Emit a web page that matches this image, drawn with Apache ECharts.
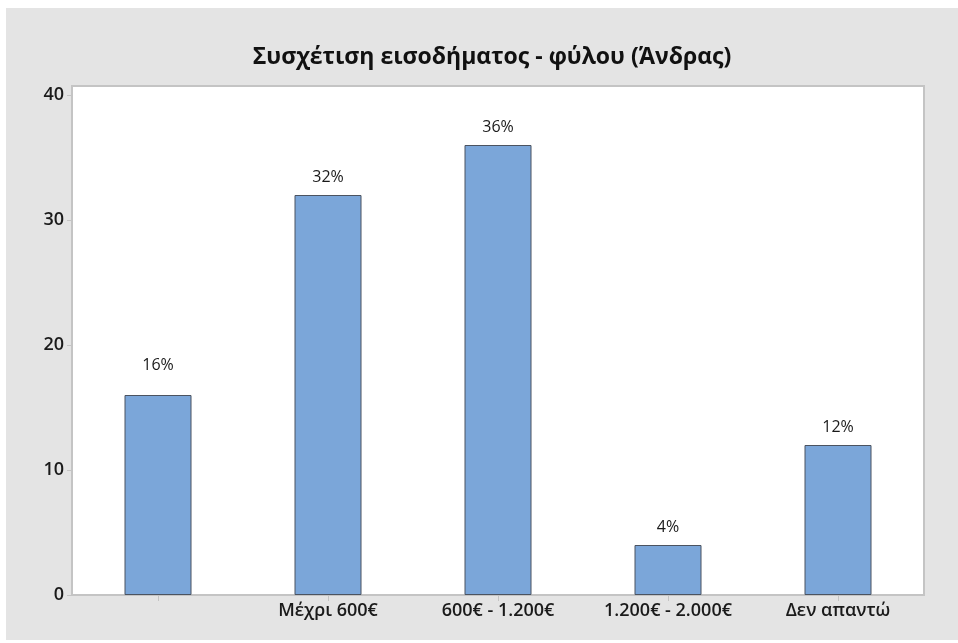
<!DOCTYPE html>
<html>
<head>
<meta charset="utf-8">
<script src="https://cdn.jsdelivr.net/npm/echarts@6/dist/echarts.min.js"></script>
<style>
  html, body { margin: 0; padding: 0; background: #fff; }
  #chart { width: 958px; height: 643px; }
</style>
</head>
<body>
<div id="chart"></div>
<script>
// data
const categories = ['', 'Μέχρι 600€', '600€ - 1.200€', '1.200€ - 2.000€', 'Δεν απαντώ'];
const values = [16, 32, 36, 4, 12];
const valueLabels = ['16%', '32%', '36%', '4%', '12%'];
const yTicks = [0, 10, 20, 30, 40];

const chart = echarts.init(document.getElementById('chart'));
const font = '"Open Sans", "Noto Sans", sans-serif';

// the first label sits a little higher in the original
const barData = values.map((v, i) => i === 0 ? { value: v, label: { distance: 22 } } : v);

const option = {
  animation: false,
  backgroundColor: '#ffffff',
  graphic: [
    {
      // grey outer panel
      type: 'rect',
      z: -10,
      shape: { x: 6, y: 8, width: 952, height: 632 },
      style: { fill: '#e4e4e4' },
      silent: true
    },
    {
      // white plot box, a bit taller than the axis range (like minitab)
      type: 'rect',
      z: -5,
      shape: { x: 72, y: 86, width: 852, height: 509 },
      style: { fill: '#ffffff', stroke: '#c4c4c4', lineWidth: 2 },
      silent: true
    }
  ],
  title: {
    text: 'Συσχέτιση εισοδήματος - φύλου (Άνδρας)',
    left: 487,
    textAlign: 'center',
    top: 41,
    textStyle: { fontFamily: font, fontSize: 23, fontWeight: 'bold', color: '#111111' }
  },
  grid: { left: 73, top: 95, right: 35, bottom: 48 },
  xAxis: {
    type: 'category',
    data: categories,
    axisLine: { show: false },
    axisTick: { show: true, alignWithLabel: true, length: 6, lineStyle: { color: '#c4c4c4', width: 1 } },
    axisLabel: { fontFamily: font, fontSize: 18, fontWeight: 600, color: '#1a1a1a', margin: 7, interval: 0 }
  },
  yAxis: {
    type: 'value',
    min: yTicks[0],
    max: yTicks[yTicks.length - 1],
    interval: 10,
    splitLine: { show: false },
    axisLine: { show: false },
    axisTick: { show: true, length: 6, lineStyle: { color: '#c4c4c4', width: 1 } },
    axisLabel: { fontFamily: font, fontSize: 18, fontWeight: 600, color: '#1a1a1a', margin: 9 }
  },
  series: [{
    type: 'bar',
    data: barData,
    barWidth: 67,
    itemStyle: { color: '#7ba6d9', borderColor: '#4b5360', borderWidth: 1 },
    label: {
      show: true,
      position: 'top',
      distance: 10,
      formatter: (p) => valueLabels[p.dataIndex],
      fontFamily: font, fontSize: 16, color: '#1a1a1a'
    }
  }]
};

chart.setOption(option);
</script>
</body>
</html>
